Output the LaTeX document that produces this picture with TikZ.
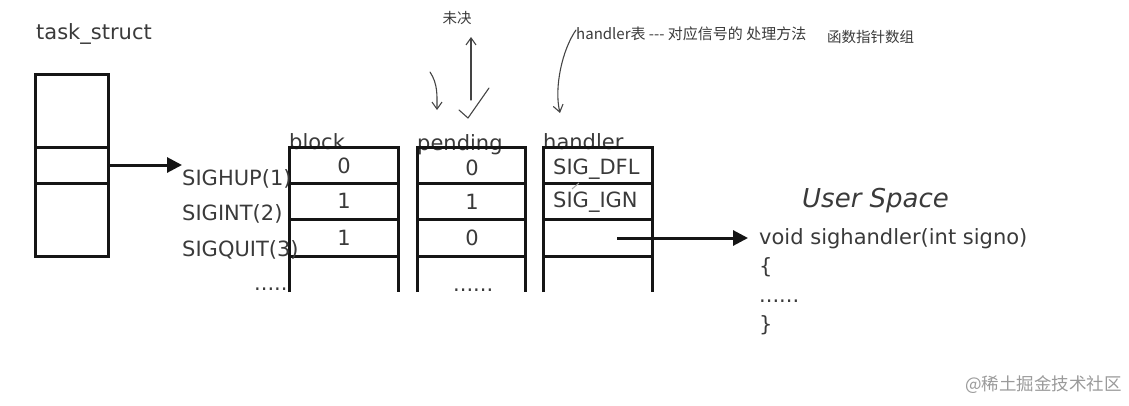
\documentclass[tikz,border=0pt]{standalone}
\usepackage{fontspec}
\setmainfont{DejaVu Sans}
\newfontfamily\cjk{Noto Sans CJK SC}
\usetikzlibrary{arrows.meta}
\definecolor{textgray}{HTML}{3A3A3A}
\definecolor{linek}{HTML}{151515}
\definecolor{handgray}{HTML}{444444}
\definecolor{wmgray}{HTML}{9A9A9A}
\begin{document}
\begin{tikzpicture}[x=1pt,y=-1pt,
  txt/.style={inner sep=0pt, text=textgray, font=\fontsize{21}{25}\selectfont},
  cjktxt/.style={inner sep=0pt, text=textgray, font=\cjk\fontsize{14.5}{17}\selectfont},
  tbl/.style={draw=linek, line width=3pt},
  bigarrow/.style={draw=linek, line width=3pt, -{Triangle[length=15pt,width=15pt]}},
  hand/.style={draw=handgray, line width=1.1pt, line cap=round, line join=round},
  handtip/.style={hand, -{Straight Barb[length=7pt,width=10pt]}}]
\useasboundingbox (0,0) rectangle (1129,405);

% task_struct box
\node[txt, anchor=base west] (ts) at (36,39) {task\_struct};
\draw[tbl] (35,74) rectangle (108,256);
\draw[tbl] (35,147) -- (108,147);
\draw[tbl] (35,183) -- (108,183);
\coordinate (tsout) at (108,165);
\coordinate (sigin) at (182,165);
\draw[bigarrow] (tsout) -- (sigin);

% column labels (drawn first, lines overlap them)
\node[txt, anchor=base west] (lblock) at (289,149) {block};
\node[txt, anchor=base west] (lpend) at (417,150) {pending};
\node[txt, anchor=base west] (lhand) at (543,149) {handler};

% tables
\foreach \l/\r in {289/398, 417/525, 543/652} {
  \draw[tbl] (\l,292) -- (\l,147) -- (\r,147) -- (\r,292);
  \foreach \y in {183,219,256} \draw[tbl] (\l,\y) -- (\r,\y);
}

% signal names
\node[txt, anchor=base west] (s1) at (182,185) {SIGHUP(1)};
\node[txt, anchor=base west] (s2) at (182,220) {SIGINT(2)};
\node[txt, anchor=base west] (s3) at (182,256) {SIGQUIT(3)};
\node[txt, anchor=base west] (sd) at (254,290) {.....};

% block values
\node[txt, anchor=base] (b1) at (344,173) {0};
\node[txt, anchor=base] (b2) at (344,208) {1};
\node[txt, anchor=base] (b3) at (344,245) {1};
% pending values
\node[txt, anchor=base] (p1) at (472,175) {0};
\node[txt, anchor=base] (p2) at (472,209) {1};
\node[txt, anchor=base] (p3) at (472,245) {0};
\node[txt, anchor=base west] (pd) at (453,291) {......};
% handler values
\node[txt, anchor=base west] (h1) at (553,174) {SIG\_DFL};
\node[txt, anchor=base west] (h2) at (553,207) {SIG\_IGN};
\draw[draw=gray!70, line width=1pt] (572,189) -- (579,183);

% user space
\node[txt, anchor=base west, font=\fontsize{26}{30}\selectfont\itshape] (us) at (802,207) {User Space};
\node[txt, anchor=base west] (v1) at (759,244) {void sighandler(int signo)};
\node[txt, anchor=base west] (v2) at (759,273) {\{};
\node[txt, anchor=base west] (v3) at (759,302) {......};
\node[txt, anchor=base west] (v4) at (759,331) {\}};
\coordinate (h3) at (617,238);
\coordinate (fn) at (748,238);
\draw[bigarrow] (h3) -- (fn);

% top annotations
\node[cjktxt] (wj) at (457,18) {未决};
\node[cjktxt, anchor=west, font=\cjk\fontsize{15}{18}\selectfont] (ht) at (576,34) {handler表 --- 对应信号的 处理方法};
\node[cjktxt, anchor=west] (fp) at (827,37) {函数指针数组};

\coordinate (upb) at (471,100);
\coordinate (upt) at (471,37);
\draw[handtip] (upb) -- (upt);
\coordinate (va) at (459,110);
\coordinate (vb) at (468,118);
\coordinate (vc) at (489,88);
\draw[hand] (va) -- (vb) -- (vc);
\coordinate (la) at (430,72);
\coordinate (lb) at (437,110);
\draw[handtip] (la) .. controls (438,84) and (437,96) .. (lb);
\coordinate (hca) at (576,30);
\coordinate (hcb) at (560,113);
\draw[handtip] (hca) .. controls (562,50) and (554,88) .. (hcb);

% watermark
\node[inner sep=0pt, text=wmgray, font=\cjk\fontsize{17.5}{20}\selectfont, anchor=east] (wm) at (1122,385) {@稀土掘金技术社区};
\end{tikzpicture}
\end{document}
